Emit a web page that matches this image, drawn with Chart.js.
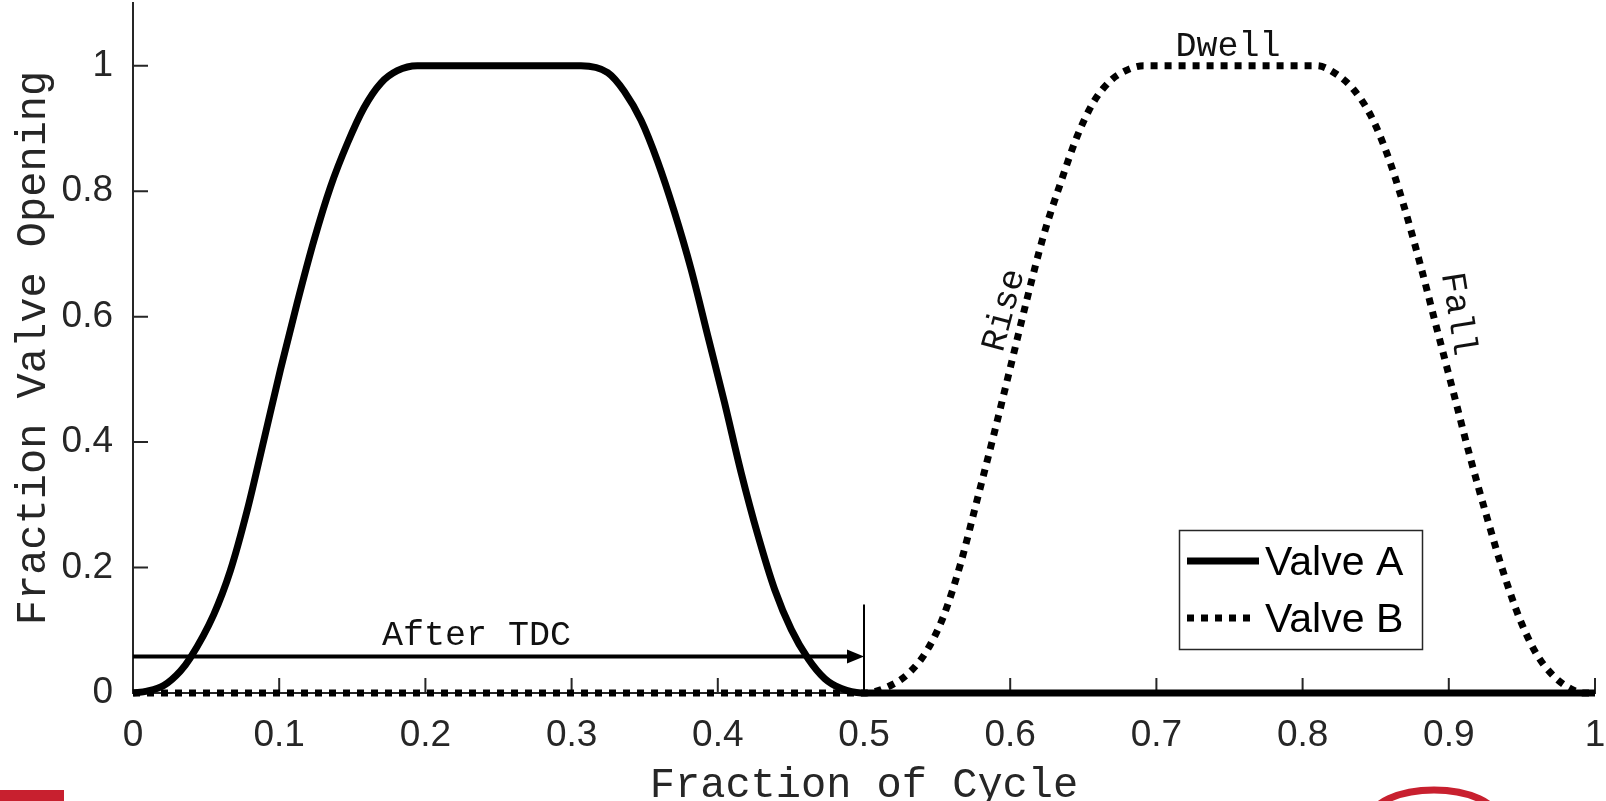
<!DOCTYPE html>
<html>
<head>
<meta charset="utf-8">
<script src="https://cdn.jsdelivr.net/npm/chart.js@4.4.1/dist/chart.umd.min.js"></script>
<style>
  html, body { margin: 0; padding: 0; background: #fff; }
  #wrap { width: 1606px; height: 801px; }
</style>
</head>
<body>
<div id="wrap"><canvas id="valveChart" width="1606" height="801"></canvas></div>
<script>
// values
const cycleA = [0, 0.0096, 0.021, 0.0324, 0.0392, 0.0552, 0.0666, 0.0781, 0.0895, 0.1009, 0.1123, 0.1237, 0.1351, 0.1466, 0.158, 0.1694, 0.1808, 0.1945, 0.25,
  0.3064, 0.3247, 0.3361, 0.3475, 0.3589, 0.3703, 0.3818, 0.3932, 0.4046, 0.416, 0.4275, 0.4389, 0.4503, 0.4617, 0.4731, 0.4845, 0.4982, 0.75, 1.0];
const openA = [0, 0.003, 0.012, 0.035, 0.056, 0.125, 0.195, 0.291, 0.403, 0.516, 0.622, 0.721, 0.807, 0.876, 0.933, 0.972, 0.992, 1.0, 1.0,
  1.0, 0.989, 0.959, 0.913, 0.847, 0.767, 0.675, 0.569, 0.463, 0.351, 0.251, 0.165, 0.101, 0.055, 0.023, 0.007, 0, 0, 0];

const cycleB = [0, 0.25, 0.5, 0.52, 0.5317, 0.5431, 0.5545, 0.5659, 0.5773, 0.5886, 0.6001, 0.6115, 0.6229, 0.6343, 0.6457, 0.657, 0.6685, 0.6799, 0.6912, 0.75,
  0.8098, 0.8235, 0.8349, 0.8463, 0.8577, 0.8691, 0.8805, 0.8919, 0.9033, 0.9147, 0.9261, 0.9375, 0.9489, 0.9603, 0.9717, 0.9831, 0.9922, 1.0];
const openB = [0, 0, 0, 0.014, 0.034, 0.068, 0.123, 0.205, 0.307, 0.41, 0.519, 0.628, 0.73, 0.812, 0.887, 0.942, 0.976, 0.993, 1.0, 1.0,
  1.0, 0.986, 0.962, 0.922, 0.86, 0.778, 0.683, 0.58, 0.478, 0.375, 0.28, 0.191, 0.116, 0.061, 0.027, 0.007, 0, 0];

const xTicks = [0, 0.1, 0.2, 0.3, 0.4, 0.5, 0.6, 0.7, 0.8, 0.9, 1];
const yTicks = [0, 0.2, 0.4, 0.6, 0.8, 1];
const seriesNames = ['Valve A', 'Valve B'];

// arrow "After TDC": level, start, end, marker height
const arrowLevel = 0.058;
const arrowFrom = 0;
const arrowTo = 0.5;
const markerTop = 0.141;

const axisColor = '#262626';

function pairs(xs, ys) {
    return xs.map((v, i) => ({x: v, y: ys[i]}));
}

const inwardTicks = {
    id: 'inwardTicks',
    beforeDatasetsDraw(chart) {
        const {ctx, chartArea, scales: {x, y}} = chart;
        ctx.save();
        ctx.strokeStyle = axisColor;
        ctx.lineWidth = 2;
        ctx.beginPath();
        xTicks.forEach(v => {
            const px = x.getPixelForValue(v);
            ctx.moveTo(px, chartArea.bottom);
            ctx.lineTo(px, chartArea.bottom - 15);
        });
        yTicks.forEach(v => {
            const py = y.getPixelForValue(v);
            ctx.moveTo(chartArea.left, py);
            ctx.lineTo(chartArea.left + 15, py);
        });
        ctx.stroke();
        ctx.restore();
    }
};

const notes = {
    id: 'notes',
    afterDatasetsDraw(chart) {
        const {ctx, scales: {x, y}} = chart;
        ctx.save();
        ctx.strokeStyle = '#000';
        ctx.fillStyle = '#000';

        const ay = y.getPixelForValue(arrowLevel);
        const ax0 = x.getPixelForValue(arrowFrom);
        const ax1 = x.getPixelForValue(arrowTo);
        ctx.lineWidth = 4;
        ctx.beginPath();
        ctx.moveTo(ax0, ay);
        ctx.lineTo(ax1 - 12, ay);
        ctx.stroke();
        ctx.beginPath();
        ctx.moveTo(ax1, ay);
        ctx.lineTo(ax1 - 17, ay - 7);
        ctx.lineTo(ax1 - 17, ay + 7);
        ctx.closePath();
        ctx.fill();

        ctx.lineWidth = 2;
        ctx.beginPath();
        ctx.moveTo(ax1, y.getPixelForValue(0));
        ctx.lineTo(ax1, y.getPixelForValue(markerTop));
        ctx.stroke();

        const labels = [
            {text: 'After TDC', x: 0.235, y: 0.076, rot: 0, base: 'alphabetic'},
            {text: 'Dwell', x: 0.749, y: 1.016, rot: 0, base: 'alphabetic'},
            {text: 'Rise', x: 0.596, y: 0.610, rot: -75, base: 'middle'},
            {text: 'Fall', x: 0.906, y: 0.604, rot: 81, base: 'middle'}
        ];
        ctx.font = '35px "Liberation Mono"';
        ctx.fillStyle = '#111';
        ctx.textAlign = 'center';
        labels.forEach(l => {
            ctx.save();
            ctx.translate(x.getPixelForValue(l.x), y.getPixelForValue(l.y));
            ctx.rotate(l.rot * Math.PI / 180);
            ctx.textBaseline = l.base;
            ctx.fillText(l.text, 0, 0);
            ctx.restore();
        });
        ctx.restore();
    }
};

const boxLegend = {
    id: 'boxLegend',
    afterDraw(chart) {
        const {ctx} = chart;
        ctx.save();
        ctx.fillStyle = '#fff';
        ctx.fillRect(1179, 530, 243, 119);
        ctx.strokeStyle = axisColor;
        ctx.lineWidth = 1.5;
        ctx.strokeRect(1179.5, 530.5, 243, 119);
        chart.data.datasets.forEach((ds, i) => {
            const ly = 561 + i * 57;
            ctx.strokeStyle = ds.borderColor;
            ctx.lineWidth = ds.borderWidth;
            ctx.setLineDash(ds.borderDash || []);
            ctx.beginPath();
            ctx.moveTo(1187, ly);
            ctx.lineTo(i === 0 ? 1259 : 1253, ly);
            ctx.stroke();
            ctx.setLineDash([]);
            ctx.fillStyle = '#000';
            ctx.font = '41px "Liberation Sans"';
            ctx.textBaseline = 'middle';
            ctx.textAlign = 'left';
            ctx.fillText(ds.label, 1265, ly + 3);
        });
        ctx.restore();

        // logos cut off at the bottom edge
        ctx.save();
        ctx.fillStyle = '#c8202f';
        ctx.fillRect(0, 790, 64, 11);
        ctx.strokeStyle = '#c8202f';
        ctx.lineWidth = 7;
        ctx.beginPath();
        ctx.ellipse(1434, 820, 64, 30, 0, Math.PI, 2 * Math.PI);
        ctx.stroke();
        ctx.restore();
    }
};

Chart.defaults.font.family = '"Liberation Sans", Arial, sans-serif';
Chart.defaults.color = axisColor;

new Chart(document.getElementById('valveChart'), {
    type: 'scatter',
    data: {
        datasets: [
            {
                label: seriesNames[0],
                data: pairs(cycleA, openA),
                showLine: true,
                borderColor: '#000',
                borderWidth: 7,
                pointRadius: 0,
                cubicInterpolationMode: 'monotone',
                clip: false
            },
            {
                label: seriesNames[1],
                data: pairs(cycleB, openB),
                showLine: true,
                borderColor: '#000',
                borderWidth: 7,
                borderDash: [7, 7],
                pointRadius: 0,
                cubicInterpolationMode: 'monotone',
                clip: false
            }
        ]
    },
    options: {
        responsive: false,
        animation: false,
        devicePixelRatio: 1,
        layout: {padding: {top: 3, right: 11, left: 0, bottom: 0}},
        plugins: {
            legend: {display: false},
            tooltip: {enabled: false}
        },
        scales: {
            x: {
                type: 'linear',
                min: 0,
                max: 1,
                afterBuildTicks: (scale) => { scale.ticks = xTicks.map(v => ({value: v})); },
                afterFit: (scale) => {
                    scale.height = 108;
                    scale.paddingLeft = 0;
                    scale.paddingRight = 0;
                },
                grid: {display: false, drawTicks: false},
                border: {display: true, color: axisColor, width: 2},
                ticks: {
                    padding: 21,
                    maxRotation: 0,
                    font: {size: 37},
                    color: axisColor,
                    callback: (v) => String(v)
                },
                title: {
                    display: true,
                    text: 'Fraction of Cycle',
                    color: axisColor,
                    font: {family: '"Liberation Mono", monospace', size: 42, lineHeight: 0.7},
                    padding: {top: 0, bottom: 0}
                }
            },
            y: {
                type: 'linear',
                min: 0,
                max: 1.1,
                afterBuildTicks: (scale) => { scale.ticks = yTicks.map(v => ({value: v})); },
                afterFit: (scale) => {
                    scale.width = 133;
                    scale.paddingTop = 0;
                    scale.paddingBottom = 0;
                },
                grid: {display: false, drawTicks: false},
                border: {display: true, color: axisColor, width: 2},
                ticks: {
                    padding: 20,
                    font: {size: 37},
                    color: axisColor,
                    callback: (v) => String(v)
                },
                title: {
                    display: true,
                    text: 'Fraction Valve Opening',
                    color: axisColor,
                    font: {family: '"Liberation Mono", monospace', size: 42, lineHeight: 0.8},
                    padding: {top: 17, bottom: 0}
                }
            }
        }
    },
    plugins: [inwardTicks, notes, boxLegend]
});
</script>
</body>
</html>
